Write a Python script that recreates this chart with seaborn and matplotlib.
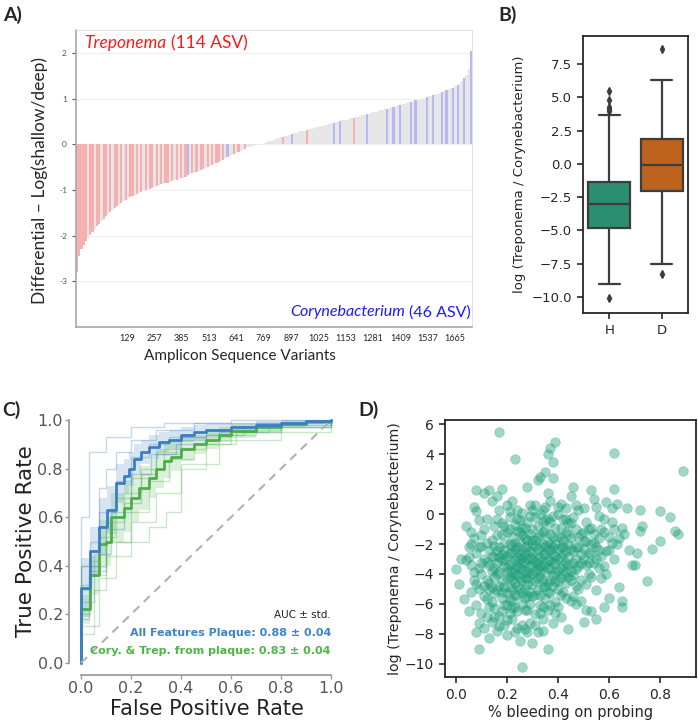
import numpy as np
import pandas as pd
import matplotlib
matplotlib.use("Agg")
import matplotlib.pyplot as plt
import seaborn as sns

# ---------------- A) differentials, one value per block of ~10 ASVs (sorted)
differential = [
    -2.8, -2.45, -2.3, -2.2, -2.12, -2.05, -1.98, -1.92, -1.86, -1.8,
    -1.74, -1.68, -1.63, -1.58, -1.53, -1.48, -1.44, -1.40, -1.36, -1.32,
    -1.28, -1.25, -1.22, -1.19, -1.16, -1.13, -1.11, -1.09, -1.07, -1.05,
    -1.03, -1.01, -0.99, -0.97, -0.95, -0.93, -0.91, -0.90, -0.88, -0.87,
    -0.85, -0.84, -0.82, -0.81, -0.79, -0.78, -0.76, -0.75, -0.73, -0.71,
    -0.68, -0.66, -0.64, -0.62, -0.60, -0.58, -0.56, -0.54, -0.52, -0.50,
    -0.47, -0.45, -0.43, -0.41, -0.38, -0.36, -0.34, -0.31, -0.29, -0.26,
    -0.24, -0.22, -0.19, -0.17, -0.14, -0.12, -0.10, -0.07, -0.05, -0.04,
    -0.03, -0.02, -0.01, 0.0, 0.01, 0.03, 0.04, 0.06, 0.07, 0.09,
    0.12, 0.13, 0.15, 0.16, 0.18, 0.19, 0.21, 0.22, 0.24, 0.25,
    0.26, 0.28, 0.29, 0.30, 0.32, 0.33, 0.34, 0.35, 0.37, 0.38,
    0.39, 0.40, 0.42, 0.43, 0.44, 0.46, 0.47, 0.48, 0.49, 0.51,
    0.52, 0.53, 0.54, 0.55, 0.57, 0.58, 0.59, 0.60, 0.62, 0.63,
    0.64, 0.66, 0.67, 0.68, 0.70, 0.71, 0.72, 0.74, 0.75, 0.77,
    0.78, 0.80, 0.81, 0.82, 0.84, 0.85, 0.86, 0.88, 0.89, 0.90,
    0.92, 0.93, 0.95, 0.96, 0.97, 0.99, 1.00, 1.02, 1.03, 1.05,
    1.06, 1.08, 1.09, 1.11, 1.12, 1.14, 1.16, 1.18, 1.20, 1.22,
    1.24, 1.27, 1.30, 1.34, 1.38, 1.44, 1.52, 1.64, 2.05,
]
treponema_blocks = [0, 1, 2, 3, 4, 6, 7, 9, 10, 12, 13, 15, 17, 18, 20, 22, 24, 25,
                    27, 29, 31, 33, 34, 36, 38, 40, 41, 43, 45, 47, 49, 52, 54, 56,
                    57, 59, 61, 63, 64, 66, 71, 73, 76, 93, 104, 125]
coryne_blocks = [50, 68, 97, 116, 119, 131, 140, 143, 146, 151, 153, 158, 161,
                 165, 167, 170, 172, 175, 178]
asv_range = (-110, 1745)
asv_ticks = [129, 257, 385, 513, 641, 769, 897, 1025, 1153, 1281, 1409, 1537, 1665]

# ---------------- B) log(Treponema / Corynebacterium) per group
log_ratio_H = [-10.1, -9.05, -8.2, -7.4, -6.8, -6.2, -5.7, -5.3, -5.0, -4.9,
               -4.8, -4.6, -4.3, -4.0, -3.8, -3.6, -3.4, -3.3, -3.2, -3.1,
               -3.0, -2.9, -2.7, -2.5, -2.3, -2.1, -1.9, -1.7, -1.6, -1.5,
               -1.35, -0.8, 0.0, 1.0, 2.2, 3.7, 3.95, 4.1, 4.3, 4.8, 5.5]
log_ratio_D = [-8.25, -7.5, -6.5, -5.5, -4.6, -3.9, -3.3, -2.8, -2.4, -2.2,
               -2.05, -1.8, -1.6, -1.3, -1.1, -0.9, -0.7, -0.5, -0.35, -0.2,
               -0.1, 0.1, 0.3, 0.5, 0.7, 0.9, 1.1, 1.3, 1.5, 1.7,
               1.85, 2.3, 2.8, 3.3, 3.9, 4.5, 5.0, 5.5, 5.9, 6.3, 8.6]

# ---------------- C) ROC curves (step breakpoints)
fpr_all = [0, 0, 0.035, 0.07, 0.105, 0.14, 0.17, 0.19, 0.21, 0.24, 0.27, 0.31, 0.35,
           0.4, 0.45, 0.5, 0.6, 0.7, 0.8, 0.9, 1]
tpr_all = [0, 0.31, 0.46, 0.56, 0.63, 0.74, 0.77, 0.8, 0.84, 0.87, 0.89, 0.91, 0.92,
           0.94, 0.95, 0.96, 0.97, 0.98, 0.99, 0.995, 1]
std_all = [0, 0.12, 0.1, 0.12, 0.1, 0.08, 0.07, 0.07, 0.06, 0.05, 0.05, 0.04, 0.04,
           0.03, 0.03, 0.025, 0.02, 0.015, 0.01, 0.005, 0]
fpr_ct = [0, 0, 0.035, 0.07, 0.1, 0.12, 0.17, 0.2, 0.23, 0.27, 0.3, 0.33, 0.36, 0.4,
          0.45, 0.5, 0.55, 0.6, 0.7, 0.8, 0.9, 1]
tpr_ct = [0, 0.22, 0.36, 0.49, 0.5, 0.6, 0.64, 0.68, 0.72, 0.76, 0.8, 0.83, 0.85, 0.88,
          0.9, 0.92, 0.94, 0.955, 0.97, 0.985, 0.995, 1]
std_ct = [0, 0.06, 0.08, 0.1, 0.1, 0.1, 0.1, 0.1, 0.09, 0.08, 0.08, 0.07, 0.06, 0.05,
          0.04, 0.04, 0.03, 0.03, 0.02, 0.015, 0.01, 0]
folds_all = [
    ([0, 0, 0.03, 0.1, 0.2, 0.33, 0.6, 1], [0, 0.6, 0.87, 0.93, 0.97, 0.99, 1, 1]),
    ([0, 0, 0.07, 0.1, 0.14, 0.2, 0.3, 0.45, 1], [0, 0.4, 0.72, 0.8, 0.87, 0.92, 0.96, 0.99, 1]),
    ([0, 0, 0.035, 0.07, 0.14, 0.2, 0.27, 0.35, 0.5, 0.7, 1],
     [0, 0.32, 0.5, 0.62, 0.75, 0.85, 0.9, 0.93, 0.96, 0.99, 1]),
    ([0, 0, 0.03, 0.1, 0.17, 0.24, 0.3, 0.4, 0.55, 0.8, 1],
     [0, 0.18, 0.38, 0.55, 0.66, 0.78, 0.86, 0.92, 0.95, 0.98, 1]),
    ([0, 0, 0.05, 0.12, 0.2, 0.28, 0.38, 0.5, 0.65, 1],
     [0, 0.25, 0.45, 0.62, 0.78, 0.86, 0.9, 0.94, 0.97, 1]),
]
folds_ct = [
    ([0, 0, 0.03, 0.07, 0.14, 0.2, 0.3, 0.4, 0.6, 0.8, 1],
     [0, 0.3, 0.42, 0.52, 0.68, 0.76, 0.87, 0.93, 0.96, 0.99, 1]),
    ([0, 0, 0.07, 0.14, 0.2, 0.27, 0.35, 0.45, 0.6, 0.75, 1],
     [0, 0.15, 0.35, 0.5, 0.62, 0.75, 0.84, 0.9, 0.95, 0.98, 1]),
    ([0, 0, 0.035, 0.1, 0.2, 0.27, 0.34, 0.4, 0.55, 0.8, 1],
     [0, 0.2, 0.36, 0.44, 0.5, 0.56, 0.62, 0.82, 0.92, 0.97, 1]),
    ([0, 0, 0.05, 0.1, 0.17, 0.24, 0.33, 0.5, 0.7, 1],
     [0, 0.12, 0.3, 0.58, 0.7, 0.8, 0.88, 0.94, 0.97, 1]),
    ([0, 0, 0.1, 0.2, 0.3, 0.4, 0.5, 0.62, 1],
     [0, 0.4, 0.5, 0.58, 0.7, 0.8, 0.9, 0.95, 1]),
]

# ---------------- D) bleeding on probing vs log ratio
points_d = [
    (0.00, -3.7), (0.01, -4.7), (0.02, -3.0), (0.03, -5.7), (0.04, -0.8), (0.05, -6.5),
    (0.05, -2.2), (0.06, -5.2), (0.06, -3.4), (0.07, -4.4), (0.07, -1.6), (0.07, 0.5),
    (0.08, 1.6), (0.08, -2.6), (0.08, -7.9), (0.09, -3.6), (0.09, -5.0), (0.09, -9.0),
    (0.09, -0.4), (0.05, -2.9), (0.06, -1.2), (0.08, -6.1), (0.09, -7.3), (0.08, 0.2),
    (0.04, -3.1),
    (0.10, -2.1), (0.10, -4.0), (0.10, -6.6), (0.11, 1.4), (0.11, -1.0), (0.11, -5.5),
    (0.11, -7.6), (0.12, -3.2), (0.12, -0.3), (0.12, -6.9), (0.13, 1.6), (0.13, -2.4),
    (0.13, -4.6), (0.13, -8.3), (0.14, 0.9), (0.14, -1.7), (0.14, -3.8), (0.14, -5.9),
    (0.14, -7.2), (0.15, -0.8), (0.15, -2.9), (0.15, -4.2), (0.15, -6.3), (0.16, 1.2),
    (0.16, -1.4), (0.16, -3.3), (0.16, -5.1), (0.16, -7.8), (0.17, 5.5), (0.17, 0.3),
    (0.17, -2.2), (0.17, -3.9), (0.17, -6.8), (0.18, 1.7), (0.18, -0.6), (0.18, -2.7),
    (0.18, -4.5), (0.18, -5.6), (0.19, -1.9), (0.19, -3.5), (0.19, -6.1), (0.19, -7.4),
    (0.12, -1.9), (0.13, -5.0), (0.15, -3.6), (0.16, -2.5), (0.18, -3.1), (0.19, -4.9),
    (0.11, -3.0), (0.17, -4.8),
    (0.20, 0.6), (0.20, -1.2), (0.20, -2.8), (0.20, -4.3), (0.20, -5.3), (0.20, -8.1),
    (0.21, -0.2), (0.21, -2.0), (0.21, -3.4), (0.21, -4.9), (0.21, -6.6), (0.22, 0.9),
    (0.22, -1.5), (0.22, -2.6), (0.22, -3.9), (0.22, -5.8), (0.22, -7.0), (0.23, 3.7),
    (0.23, -0.7), (0.23, -2.3), (0.23, -3.1), (0.23, -4.6), (0.23, -6.2), (0.24, 0.3),
    (0.24, -1.1), (0.24, -2.9), (0.24, -4.1), (0.24, -5.4), (0.24, -7.6), (0.25, -0.4),
    (0.25, -1.8), (0.25, -3.6), (0.25, -5.0), (0.25, -8.5), (0.26, -10.2), (0.26, 0.1),
    (0.26, -2.4), (0.26, -3.3), (0.26, -4.4), (0.26, -6.0), (0.27, -0.9), (0.27, -1.6),
    (0.27, -2.7), (0.27, -3.8), (0.27, -5.6), (0.27, -7.7), (0.28, 1.8), (0.28, -0.5),
    (0.28, -2.1), (0.28, -3.0), (0.28, -4.7), (0.28, -6.4), (0.29, 0.6), (0.29, -1.3),
    (0.29, -2.5), (0.29, -3.5), (0.29, -5.2), (0.29, -7.3), (0.21, -1.0), (0.23, -3.7),
    (0.25, -2.6), (0.27, -4.3), (0.29, -4.0), (0.22, -5.1), (0.24, -2.2), (0.26, -1.4),
    (0.28, -3.9),
    (0.30, 0.3), (0.30, -1.0), (0.30, -2.6), (0.30, -4.0), (0.30, -5.5), (0.30, -8.6),
    (0.31, -0.2), (0.31, -1.7), (0.31, -3.2), (0.31, -4.5), (0.31, -6.7), (0.32, 2.3),
    (0.32, -0.8), (0.32, -2.3), (0.32, -3.6), (0.32, -5.1), (0.32, -7.9), (0.33, 2.5),
    (0.33, 0.0), (0.33, -1.4), (0.33, -2.9), (0.33, -4.2), (0.33, -6.1), (0.34, -0.5),
    (0.34, -2.0), (0.34, -3.4), (0.34, -4.9), (0.34, -7.0), (0.35, 2.8), (0.35, 0.5),
    (0.35, -1.1), (0.35, -2.7), (0.35, -3.9), (0.35, -5.6), (0.36, 4.0), (0.36, 1.4),
    (0.36, -9.0), (0.36, -0.3), (0.36, -1.8), (0.36, -3.1), (0.36, -4.6), (0.36, -6.4),
    (0.37, 4.4), (0.37, 0.9), (0.37, -1.3), (0.37, -2.4), (0.37, -3.7), (0.37, -5.3),
    (0.38, 3.5), (0.38, 2.4), (0.38, -0.1), (0.38, -2.2), (0.38, -3.3), (0.38, -4.1),
    (0.38, -7.3), (0.39, 4.8), (0.39, -0.9), (0.39, -2.8), (0.39, -3.9), (0.39, -5.9),
    (0.31, -2.1), (0.34, -1.2), (0.37, -4.4), (0.33, -3.5), (0.35, -4.8), (0.30, -3.4),
    (0.40, 0.0), (0.40, -1.5), (0.40, -3.0), (0.40, -4.5), (0.40, -6.2), (0.41, 0.7),
    (0.41, -0.9), (0.41, -2.2), (0.41, -3.6), (0.41, -6.9), (0.42, -0.3), (0.42, -1.8),
    (0.42, -2.7), (0.42, -5.2), (0.43, 0.4), (0.43, -1.2), (0.43, -3.3), (0.43, -4.6),
    (0.44, -7.7), (0.44, -0.6), (0.44, -2.0), (0.44, -2.9), (0.45, 1.2), (0.45, -1.6),
    (0.45, -3.8), (0.45, -5.8), (0.46, 1.8), (0.46, -0.2), (0.46, -2.5), (0.46, -4.1),
    (0.47, 0.6), (0.47, -1.0), (0.47, -3.0), (0.47, -6.0), (0.48, 0.3), (0.48, -2.2),
    (0.48, -5.0), (0.49, -1.3), (0.49, -2.7), (0.49, -4.4), (0.42, -4.0), (0.44, -3.4),
    (0.48, -3.5), (0.41, -5.4),
    (0.50, 0.4), (0.50, -1.2), (0.50, -2.3), (0.50, -7.2), (0.51, -0.5), (0.51, -1.8),
    (0.51, -3.4), (0.51, -6.4), (0.52, -2.6), (0.52, -4.0), (0.53, 1.6), (0.53, -0.9),
    (0.53, -2.0), (0.53, -6.5), (0.54, 1.0), (0.54, -1.3), (0.54, -3.3), (0.55, -7.0),
    (0.55, 0.5), (0.55, -2.2), (0.55, -5.1), (0.56, -0.1), (0.56, -1.6), (0.56, -3.6),
    (0.57, -2.8), (0.57, -4.3), (0.58, -6.2), (0.58, -0.3), (0.58, -1.2), (0.59, 0.8),
    (0.59, -2.5), (0.59, -4.0), (0.52, -1.0),
    (0.60, -5.6), (0.60, -1.5), (0.61, -0.5), (0.61, 0.4), (0.62, 4.1), (0.62, 1.7),
    (0.62, -1.0), (0.63, 0.7), (0.63, -2.0), (0.64, -4.9), (0.64, -1.6), (0.65, -5.8),
    (0.65, -6.2), (0.65, -0.9), (0.66, -1.3), (0.67, 0.4), (0.68, -2.4), (0.69, -3.4),
    (0.70, -3.4), (0.71, -2.6), (0.72, -1.1), (0.72, 0.3), (0.73, -0.8), (0.75, -4.5),
    (0.77, -2.3), (0.80, 0.2), (0.80, -1.8), (0.84, -0.2), (0.86, -1.1), (0.87, -1.3),
    (0.89, 2.9),
    # dense core
    (0.13, -3.4), (0.14, -2.8), (0.15, -5.3), (0.16, -4.0), (0.17, -2.9), (0.18, -6.5),
    (0.19, -2.4), (0.20, -3.6), (0.20, -6.1), (0.21, -2.6), (0.21, -5.7), (0.22, -3.3),
    (0.22, -4.4), (0.23, -1.9), (0.23, -5.4), (0.24, -3.5), (0.24, -6.5), (0.25, -4.3),
    (0.25, -1.2), (0.26, -5.3), (0.26, -2.9), (0.27, -3.2), (0.27, -6.4), (0.28, -1.7),
    (0.28, -5.5), (0.29, -2.9), (0.29, -6.0), (0.30, -1.7), (0.30, -4.7), (0.31, -3.8),
    (0.31, -5.4), (0.32, -1.5), (0.32, -4.3), (0.33, -2.2), (0.33, -5.4), (0.34, -2.7),
    (0.34, -6.2), (0.35, -3.3), (0.35, -0.4), (0.36, -2.4), (0.36, -5.2), (0.37, -3.1),
    (0.37, -6.1), (0.38, -1.5), (0.38, -4.8), (0.39, -2.0), (0.39, -3.3), (0.40, -2.3),
    (0.40, -3.8), (0.41, -1.5), (0.41, -4.3), (0.42, -3.4), (0.43, -2.5), (0.43, -3.9),
    (0.44, -1.3), (0.45, -2.3), (0.45, -4.4), (0.46, -3.3), (0.47, -2.2), (0.47, -4.8),
    (0.48, -1.5), (0.49, -3.3), (0.50, -1.8), (0.50, -3.0), (0.52, -3.3), (0.53, -2.7),
    (0.54, -1.9), (0.56, -2.4), (0.18, -1.3), (0.19, -0.8), (0.21, 0.2), (0.24, -0.3),
    (0.26, -0.9), (0.29, -0.1), (0.31, 0.6), (0.34, 0.3), (0.37, -0.5), (0.40, 0.5),
    (0.43, -0.3), (0.15, -6.9), (0.17, -7.5), (0.20, -7.1), (0.23, -7.9), (0.26, -7.4),
    (0.28, -7.9), (0.31, -7.4), (0.34, -7.8), (0.14, -4.9), (0.12, -4.4), (0.10, -3.3),
    (0.11, -4.8), (0.12, -5.7), (0.13, -6.2), (0.15, -2.1), (0.16, -0.3), (0.20, -3.9),
    (0.22, -2.1), (0.25, -3.0), (0.27, -2.2), (0.30, -2.0), (0.32, -2.9), (0.35, -2.1),
    (0.38, -2.7), (0.41, -2.9), (0.44, -4.2), (0.46, -5.5), (0.49, -5.8), (0.51, -4.7),
    (0.53, -4.2), (0.55, -3.0), (0.57, -1.0), (0.60, -2.4), (0.62, -3.0), (0.58, -3.5),
    (0.61, -1.9), (0.07, -3.9), (0.08, -4.7), (0.06, -2.0), (0.09, -2.2), (0.10, -1.4),
    (0.23, -4.0), (0.24, -4.8), (0.28, -4.3), (0.30, -3.0), (0.33, -3.9), (0.36, -3.6),
    (0.39, -4.5), (0.42, -2.2), (0.26, -3.7), (0.32, -3.3), (0.19, -3.0), (0.21, -4.2),
    (0.34, -4.5), (0.37, -2.0), (0.40, -5.0), (0.47, -3.7), (0.45, -0.6), (0.43, -5.6),
    (0.39, -6.6), (0.33, -6.6), (0.27, -5.0), (0.22, -6.3), (0.18, -5.2),
]

W, H = 698, 720


def px_axes(left, top, right, bottom):
    return [left / W, 1 - bottom / H, (right - left) / W, (bottom - top) / H]


sns.set_theme(style="ticks")
plt.rcParams['font.family'] = ['DejaVu Sans']

fig = plt.figure(figsize=(W / 100, H / 100), dpi=100)

# ================= A
axa = fig.add_axes(px_axes(76, 30, 472, 327))
n_blocks = len(differential)
block_w = (asv_range[1] - asv_range[0]) / n_blocks
xs = asv_range[0] + (np.arange(n_blocks) + 0.5) * block_w
colors = ['#e6e6e6'] * n_blocks
for i in treponema_blocks:
    colors[i] = '#f7afaf'
for i in coryne_blocks:
    colors[i] = '#b8b8f4'
axa.bar(xs, differential, width=block_w, color=colors, linewidth=0)
axa.set_xlim(*asv_range)
axa.set_ylim(-4.0, 2.5)
axa.set_yticks([-3, -2, -1, 0, 1, 2])
axa.set_xticks(asv_ticks)
axa.tick_params(axis='y', labelsize=6, colors='#555555', length=3, width=0.8)
axa.tick_params(axis='x', labelsize=6.5, length=0, pad=5)
for lab in axa.get_xticklabels() + axa.get_yticklabels():
    lab.set_family('Lato')
axa.yaxis.set_major_formatter(matplotlib.ticker.FuncFormatter(lambda v, p: f"{int(v)}"))
axa.grid(axis='y', color='#efefef', lw=0.8)
axa.set_axisbelow(True)
for s in ['left', 'bottom']:
    axa.spines[s].set_color('#a8a8a8')
    axa.spines[s].set_linewidth(1.2)
for s in ['top', 'right']:
    axa.spines[s].set_color('#e2e2e2')
    axa.spines[s].set_linewidth(0.8)
t1 = axa.text(0.02, 0.955, 'Treponema', transform=axa.transAxes, color='#ff1a1a',
              fontsize=12.5, family='Lato', style='italic', va='center', ha='left')
axa.annotate('(114 ASV)', xy=(1, 0.5), xycoords=t1, xytext=(3.5, 0),
             textcoords='offset points', color='#ff1a1a', fontsize=12.5, family='Lato',
             va='center', ha='left')
t2 = axa.text(0.998, 0.05, '(46 ASV)', transform=axa.transAxes, color='#1a1aff',
              fontsize=11.5, family='Lato', va='center', ha='right')
axa.annotate('Corynebacterium', xy=(0, 0.5), xycoords=t2, xytext=(-3.5, 0),
             textcoords='offset points', color='#1a1aff', fontsize=11.5, family='Lato',
             style='italic', va='center', ha='right')
fig.text(40 / W, 1 - 180 / H, 'Differential \u2013 Log(shallow/deep)', rotation=90,
         ha='center', va='center', fontsize=12.5, family='Lato')
fig.text(240 / W, 1 - 356 / H, 'Amplicon Sequence Variants', ha='center', va='center',
         fontsize=11, family='Lato')

# ================= B
axb = fig.add_axes(px_axes(583, 36, 688, 313))
df_b = pd.DataFrame({
    'group': ['H'] * len(log_ratio_H) + ['D'] * len(log_ratio_D),
    'value': log_ratio_H + log_ratio_D,
})
sns.boxplot(data=df_b, x='group', y='value', hue='group', order=['H', 'D'],
            palette='Dark2', saturation=0.75, width=0.8, linewidth=1.6,
            linecolor='#3d3d3d', legend=False, ax=axb,
            flierprops=dict(marker='d', markerfacecolor='#3d3d3d',
                            markeredgecolor='#3d3d3d', markersize=4))
axb.set_ylim(-11.2, 9.6)
axb.set_yticks([-10, -7.5, -5, -2.5, 0, 2.5, 5, 7.5])
axb.set_xlabel('')
axb.set_ylabel('log (Treponema / Corynebacterium)', fontsize=9.5, labelpad=4)
axb.tick_params(labelsize=9.5, length=4.5, width=1.2)
for s in axb.spines.values():
    s.set_linewidth(1.3)

# ================= C
axc = fig.add_axes(px_axes(68.5, 408, 343.5, 675))
c_blue, c_green = '#3b7ec4', '#4caf47'
for fx, fy in folds_all:
    axc.plot(fx, fy, drawstyle='steps-post', color=c_blue, lw=1, alpha=0.3)
for fx, fy in folds_ct:
    axc.plot(fx, fy, drawstyle='steps-post', color=c_green, lw=1, alpha=0.3)
for fx, fy, sd, c in [(fpr_all, tpr_all, std_all, c_blue), (fpr_ct, tpr_ct, std_ct, c_green)]:
    fy = np.array(fy)
    sd = np.array(sd)
    axc.fill_between(fx, np.clip(fy - sd, 0, 1), np.clip(fy + sd, 0, 1), step='post',
                     color=c, alpha=0.2, linewidth=0)
sns.lineplot(x=fpr_ct, y=tpr_ct, drawstyle='steps-post', color=c_green, lw=2,
             ax=axc, estimator=None, sort=False)
sns.lineplot(x=fpr_all, y=tpr_all, drawstyle='steps-post', color=c_blue, lw=2,
             ax=axc, estimator=None, sort=False)
axc.plot([0, 1], [0, 1], ls=(0, (4, 3)), color='#b0b0b0', lw=1.5)
axc.set_xlim(-0.05, 1.05)
axc.set_ylim(-0.05, 1.05)
ticks = [0, 0.2, 0.4, 0.6, 0.8, 1.0]
axc.set_xticks(ticks)
axc.set_yticks(ticks)
axc.tick_params(labelsize=11.5, colors='#999999', labelcolor='#555555', length=3, width=1,
                pad=1)
sns.despine(ax=axc, trim=True)
for s in ['left', 'bottom']:
    axc.spines[s].set_color('#999999')
axc.set_xlabel('False Positive Rate', fontsize=15, color='#222222', va='center')
axc.set_ylabel('True Positive Rate', fontsize=15.5, color='#222222', va='center')
axc.xaxis.set_label_coords(0.504, -0.126)
axc.yaxis.set_label_coords(-0.155, 0.5)
axc.text(1.0, 0.197, 'AUC \u00b1 std.', ha='right', va='center', fontsize=7.5, color='#222222')
axc.text(1.0, 0.122, 'All Features Plaque: 0.88 \u00b1 0.04', ha='right', va='center',
         fontsize=8, fontweight='bold', color='#3d85c6')
axc.text(1.0, 0.048, 'Cory. & Trep. from plaque: 0.83 \u00b1 0.04', ha='right', va='center',
         fontsize=8, fontweight='bold', color='#4cb648')

# ================= D
axd = fig.add_axes(px_axes(445, 420, 696, 677))
bleeding = [p[0] for p in points_d]
log_ratio = [p[1] for p in points_d]
sns.scatterplot(x=bleeding, y=log_ratio, color='#1b9e77', alpha=0.42, s=48,
                edgecolor='#1b9e77', linewidth=0.4, ax=axd)
axd.set_xlim(-0.043, 0.941)
axd.set_ylim(-10.9, 6.3)
axd.set_xticks([0, 0.2, 0.4, 0.6, 0.8])
axd.set_yticks([-10, -8, -6, -4, -2, 0, 2, 4, 6])
axd.set_xlabel('% bleeding on probing', fontsize=10.5, labelpad=2)
axd.set_ylabel('log (Treponema / Corynebacterium)', fontsize=10.2, labelpad=2)
axd.tick_params(labelsize=10, length=4.5, width=1.2)
for s in axd.spines.values():
    s.set_linewidth(1.3)

# ================= panel letters
for x, y, t in [(3, 15, 'A)'), (498, 15, 'B)'), (2, 410, 'C)'), (358, 410, 'D)')]:
    fig.text(x / W, 1 - y / H, t, fontsize=14, fontweight='bold', family='Lato',
             ha='left', va='center')

fig.savefig('out.png', dpi=100)
